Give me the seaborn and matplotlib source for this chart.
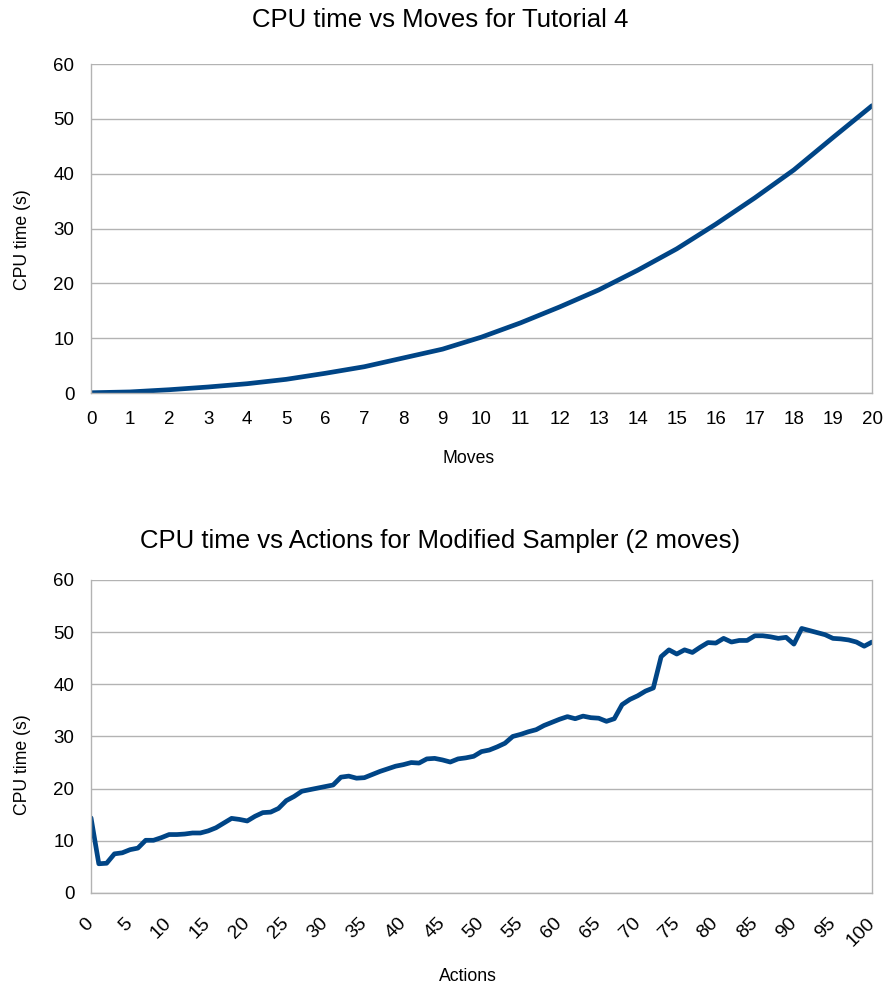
import matplotlib
matplotlib.use("Agg")
from matplotlib import pyplot as plt
from matplotlib.ticker import MultipleLocator
import pandas as pd
import seaborn as sns

# top chart: CPU time vs number of moves (Tutorial 4)
moves = list(range(0, 21))
moves_cpu = [0.05, 0.2, 0.6, 1.1, 1.7, 2.5, 3.6, 4.8, 6.4, 8.0, 10.2,
             12.8, 15.7, 18.8, 22.4, 26.3, 30.8, 35.6, 40.7, 46.6, 52.4]

# bottom chart: CPU time vs number of actions (Modified Sampler, 2 moves)
actions = list(range(0, 101))
actions_cpu = [
    14.4, 5.6, 5.7, 7.5, 7.7, 8.3, 8.6, 10.1, 10.1, 10.6,
    11.2, 11.2, 11.3, 11.5, 11.5, 11.9, 12.5, 13.4, 14.3, 14.1,
    13.8, 14.7, 15.4, 15.5, 16.2, 17.7, 18.5, 19.5, 19.8, 20.1,
    20.4, 20.7, 22.2, 22.4, 22.0, 22.1, 22.7, 23.3, 23.8, 24.3,
    24.6, 25.0, 24.9, 25.7, 25.8, 25.5, 25.1, 25.7, 25.9, 26.2,
    27.1, 27.4, 28.0, 28.7, 30.0, 30.4, 30.9, 31.3, 32.1, 32.7,
    33.3, 33.8, 33.4, 33.9, 33.6, 33.5, 32.9, 33.4, 36.1, 37.1,
    37.8, 38.7, 39.3, 45.3, 46.6, 45.8, 46.6, 46.1, 47.1, 48.0,
    47.9, 48.8, 48.1, 48.4, 48.4, 49.3, 49.3, 49.1, 48.8, 49.0,
    47.7, 50.7, 50.3, 49.9, 49.5, 48.8, 48.7, 48.5, 48.1, 47.3,
    48.1,
]

LINE = "#004586"
GRID = "#b3b3b3"

sns.set_theme(style="whitegrid")
plt.rcParams["font.family"] = ["Liberation Sans", "DejaVu Sans"]
plt.rcParams["text.color"] = "black"
plt.rcParams["axes.labelcolor"] = "black"


def style_axes(ax, ylabel_y):
    ax.set_ylim(0, 60)
    ax.yaxis.set_major_locator(MultipleLocator(10))
    ax.grid(axis="y", color=GRID, linewidth=1.0)
    ax.grid(axis="x", visible=False)
    for side in ["left", "bottom", "right"]:
        ax.spines[side].set_visible(True)
        ax.spines[side].set_color(GRID)
        ax.spines[side].set_linewidth(1.0)
    ax.spines["top"].set_visible(False)
    ax.tick_params(axis="both", which="both", direction="out", color=GRID,
                   width=1.0, labelcolor="black")
    ax.tick_params(axis="y", length=8, labelsize=13.5, pad=4)
    ax.set_ylabel("CPU time (s)", fontsize=12.7)
    ax.yaxis.set_label_coords(-0.0883, ylabel_y)
    ax.yaxis.label.set_va("center")


fig = plt.figure(figsize=(8.87, 9.90), dpi=100)

# --- top chart ---
ax1 = fig.add_axes([0.1026, 0.6030, 0.8805, 0.3323])
df1 = pd.DataFrame({"Moves": moves, "CPU": moves_cpu})
sns.lineplot(data=df1, x="Moves", y="CPU", ax=ax1, color=LINE, linewidth=3.4)
style_axes(ax1, 0.465)
ax1.set_xlim(0, 20)
ax1.set_xticks(moves)
ax1.tick_params(axis="x", length=7, labelsize=13.5, pad=6)
ax1.set_xlabel("Moves", fontsize=12.7)
ax1.xaxis.set_label_coords(0.483, -0.198)
ax1.xaxis.label.set_va("center")
fig.text(0.496, 0.9798, "CPU time vs Moves for Tutorial 4",
         fontsize=18.5, ha="center", va="center")

# --- bottom chart ---
ax2 = fig.add_axes([0.1026, 0.0980, 0.8805, 0.3162])
df2 = pd.DataFrame({"Actions": actions, "CPU": actions_cpu})
sns.lineplot(data=df2, x="Actions", y="CPU", ax=ax2, color=LINE, linewidth=3.4)
style_axes(ax2, 0.409)
ax2.set_xlim(0, 100)
ax2.xaxis.set_major_locator(MultipleLocator(5))
ax2.xaxis.set_minor_locator(MultipleLocator(1))
ax2.tick_params(axis="x", which="both", length=8)
ax2.tick_params(axis="x", which="major", labelsize=14, pad=12)
for lbl in ax2.get_xticklabels():
    lbl.set_rotation(45)
    lbl.set_ha("right")
    lbl.set_va("center")
    lbl.set_rotation_mode("anchor")
ax2.set_xlabel("Actions", fontsize=12.7)
ax2.xaxis.set_label_coords(0.483, -0.268)
ax2.xaxis.label.set_va("center")
fig.text(0.496, 0.4535, "CPU time vs Actions for Modified Sampler (2 moves)",
         fontsize=18.5, ha="center", va="center")

fig.savefig("out.png", dpi=100)
plt.close(fig)
